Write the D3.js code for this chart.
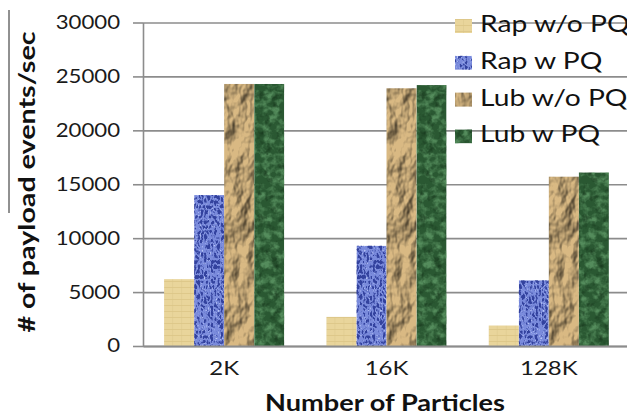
<!DOCTYPE html>
<html>
<head>
<meta charset="utf-8">
<script src="https://cdn.jsdelivr.net/npm/d3@7"></script>
<style>
  html, body { margin: 0; padding: 0; background: #fff; }
  svg { display: block; }
  filter { color-interpolation-filters: sRGB; }
</style>
</head>
<body>
<svg id="chart" width="627" height="418"></svg>
<script>
// Throughput per particle count, four configurations
const categories = ["2K", "16K", "128K"];
const seriesNames = ["Rap w/o PQ", "Rap w PQ", "Lub w/o PQ", "Lub w PQ"];
const rapNoPQ = [6200, 2700, 1900];
const rapPQ   = [14000, 9300, 6100];
const lubNoPQ = [24300, 23900, 15700];
const lubPQ   = [24300, 24200, 16100];
const yTicks  = [0, 5000, 10000, 15000, 20000, 25000, 30000];
const yTitle = "# of payload events/sec";
const xTitle = "Number of Particles";

const seriesValues = [rapNoPQ, rapPQ, lubNoPQ, lubPQ];

const W = 627, H = 418;
const svg = d3.select("#chart");
const defs = svg.append("defs");

// ---- bar fills -------------------------------------------------------
// papyrus-like pale tan with a faint grid
const pap = defs.append("pattern").attr("id", "pap")
  .attr("patternUnits", "userSpaceOnUse").attr("width", 9).attr("height", 6);
pap.append("rect").attr("width", 9).attr("height", 6).attr("fill", "#e9d59b");
pap.append("path").attr("d", "M0,5.5H9").attr("stroke", "#d5bd7c").attr("stroke-width", 1).attr("opacity", 0.55);
pap.append("path").attr("d", "M8.5,0V6").attr("stroke", "#dac488").attr("stroke-width", 1).attr("opacity", 0.45);

// blue woven mesh
const fWeave = defs.append("filter").attr("id", "weave")
  .attr("x", 0).attr("y", 0).attr("width", 1).attr("height", 1)
  .attr("color-interpolation-filters", "sRGB");
fWeave.append("feTurbulence").attr("type", "turbulence")
  .attr("baseFrequency", "0.3 0.2").attr("numOctaves", 2).attr("seed", 3).attr("result", "n1");
fWeave.append("feColorMatrix").attr("in", "n1").attr("type", "matrix")
  .attr("values", "0 0 0 0 0.2  0 0 0 0 0.26  0 0 0 0 0.62  5 0 0 0 -1.1")
  .attr("result", "dark");
fWeave.append("feTurbulence").attr("type", "turbulence")
  .attr("baseFrequency", "0.5 0.4").attr("numOctaves", 1).attr("seed", 9).attr("result", "n2");
fWeave.append("feColorMatrix").attr("in", "n2").attr("type", "matrix")
  .attr("values", "0 0 0 0 0.72  0 0 0 0 0.77  0 0 0 0 0.96  0 3.2 0 0 -0.9")
  .attr("result", "light");
const mW = fWeave.append("feMerge").attr("result", "mix");
mW.append("feMergeNode").attr("in", "SourceGraphic");
mW.append("feMergeNode").attr("in", "light");
mW.append("feMergeNode").attr("in", "dark");
fWeave.append("feComposite").attr("in", "mix").attr("in2", "SourceGraphic").attr("operator", "in");

// crumpled brown paper (region padded so the lighting has no edge seams)
const fPaper = defs.append("filter").attr("id", "crumple")
  .attr("x", -0.5).attr("y", -0.1).attr("width", 2).attr("height", 1.2)
  .attr("color-interpolation-filters", "sRGB");
fPaper.append("feTurbulence").attr("type", "fractalNoise")
  .attr("baseFrequency", "0.05 0.03").attr("numOctaves", 4).attr("seed", 7).attr("result", "noise");
fPaper.append("feGaussianBlur").attr("in", "noise").attr("stdDeviation", 0.6).attr("result", "soft");
const dl = fPaper.append("feDiffuseLighting").attr("in", "soft")
  .attr("surfaceScale", 5).attr("diffuseConstant", 1.15)
  .attr("lighting-color", "#ffffff").attr("result", "lit");
dl.append("feDistantLight").attr("azimuth", 225).attr("elevation", 50);
fPaper.append("feFlood").attr("flood-color", "#d9b983").attr("result", "tan");
fPaper.append("feBlend").attr("in", "tan").attr("in2", "lit").attr("mode", "multiply").attr("result", "shaded");
fPaper.append("feComposite").attr("in", "shaded").attr("in2", "SourceGraphic").attr("operator", "in");

// green marble
const fMarble = defs.append("filter").attr("id", "marble")
  .attr("x", 0).attr("y", 0).attr("width", 1).attr("height", 1)
  .attr("color-interpolation-filters", "sRGB");
fMarble.append("feTurbulence").attr("type", "fractalNoise")
  .attr("baseFrequency", "0.13").attr("numOctaves", 3).attr("seed", 11).attr("result", "mn");
fMarble.append("feColorMatrix").attr("in", "mn").attr("type", "matrix")
  .attr("values", "0 0 0 0 0.33  0 0 0 0 0.55  0 0 0 0 0.36  3 0 0 0 -1.25")
  .attr("result", "veins");
fMarble.append("feColorMatrix").attr("in", "mn").attr("type", "matrix")
  .attr("values", "0 0 0 0 0.08  0 0 0 0 0.2  0 0 0 0 0.1  0 -2.2 0 0 1.0")
  .attr("result", "shadow");
const mM = fMarble.append("feMerge").attr("result", "mix");
mM.append("feMergeNode").attr("in", "SourceGraphic");
mM.append("feMergeNode").attr("in", "veins");
mM.append("feMergeNode").attr("in", "shadow");
fMarble.append("feComposite").attr("in", "mix").attr("in2", "SourceGraphic").attr("operator", "in");

const seriesStyle = [
  { fill: "url(#pap)", filter: null },
  { fill: "#7a8bdc", filter: "url(#weave)" },
  { fill: "#b8975f", filter: "url(#crumple)" },
  { fill: "#2a5832", filter: "url(#marble)" }
];

// ---- scales ----------------------------------------------------------
const x0 = d3.scaleBand().domain(categories).range([143, 630])
  .paddingInner(0.26).paddingOuter(0.13);
const x1 = d3.scaleBand().domain(seriesNames).range([0, x0.bandwidth()]);
const y = d3.scaleLinear().domain([0, 30000]).range([346, 22.5]);

const gridColor = "#8c8c8c";
const stretch = 1.2;

// gridlines across the plot
const grid = svg.append("g").attr("transform", "translate(143,0)")
  .call(d3.axisRight(y).tickValues(yTicks).tickSize(W - 143).tickFormat(""));
grid.select(".domain").remove();
grid.selectAll("line").attr("stroke", gridColor).attr("stroke-width", 1.6);

// y axis with outward ticks and labels
const yAxis = svg.append("g").attr("transform", "translate(143,0)")
  .call(d3.axisLeft(y).tickValues(yTicks).tickSize(10).tickSizeOuter(0).tickPadding(13)
    .tickFormat(d3.format("d")));
yAxis.select(".domain").attr("stroke", gridColor).attr("stroke-width", 1.6);
yAxis.selectAll("line").attr("stroke", gridColor).attr("stroke-width", 1.6);
yAxis.selectAll("text").attr("font-family", "Lato, 'Open Sans', sans-serif")
  .attr("font-size", 18.5).attr("fill", "#1a1a1a").classed("stretch", true);

// bars
const groups = svg.append("g").selectAll("g").data(categories).join("g")
  .attr("transform", d => `translate(${x0(d)},0)`);
groups.selectAll("rect")
  .data((c, ci) => seriesNames.map((s, si) => ({ s, si, v: seriesValues[si][ci] })))
  .join("rect")
  .attr("x", d => x1(d.s))
  .attr("y", d => y(d.v))
  .attr("width", x1.bandwidth())
  .attr("height", d => y(0) - y(d.v))
  .attr("fill", d => seriesStyle[d.si].fill)
  .attr("filter", d => seriesStyle[d.si].filter);

// x axis
const xAxis = svg.append("g").attr("transform", `translate(0,${y(0)})`)
  .call(d3.axisBottom(x0).tickSize(0).tickSizeOuter(0).tickPadding(15));
xAxis.select(".domain").attr("stroke", gridColor).attr("stroke-width", 1.8);
xAxis.selectAll("text").attr("font-family", "Lato, 'Open Sans', sans-serif")
  .attr("font-size", 20).attr("fill", "#1a1a1a").classed("stretch", true);

// legend, drawn straight over the gridlines
const legend = svg.append("g").attr("transform", "translate(455,0)");
const rowY = d3.scalePoint().domain(seriesNames).range([32, 142.4]);
const items = legend.selectAll("g").data(seriesNames).join("g")
  .attr("transform", d => `translate(0,${rowY(d)})`);
items.append("rect").attr("x", 0).attr("y", -13).attr("width", 17).attr("height", 14)
  .attr("fill", (d, i) => seriesStyle[i].fill)
  .attr("filter", (d, i) => seriesStyle[i].filter);
items.append("text").attr("x", 25).attr("y", 0).text(d => d)
  .attr("font-family", "Lato, 'Open Sans', sans-serif").attr("font-size", 23.5)
  .attr("fill", "#111").classed("stretch", true);

// axis titles
svg.append("text").attr("x", 385).attr("y", 411).attr("text-anchor", "middle")
  .attr("font-family", "Lato, 'Open Sans', sans-serif").attr("font-weight", 700)
  .attr("font-size", 23).attr("fill", "#111")
  .attr("textLength", 240).attr("lengthAdjust", "spacingAndGlyphs")
  .text(xTitle);
svg.append("text").attr("transform", "translate(35,182) rotate(-90)")
  .attr("text-anchor", "middle")
  .attr("font-family", "Lato, 'Open Sans', sans-serif").attr("font-weight", 700)
  .attr("font-size", 23).attr("fill", "#111")
  .attr("textLength", 301).attr("lengthAdjust", "spacingAndGlyphs")
  .text(yTitle);

// thin rule at the far left edge
svg.append("line").attr("x1", 9).attr("x2", 9).attr("y1", 10).attr("y2", 213)
  .attr("stroke", "#222").attr("stroke-width", 1);

// widen the regular labels slightly
svg.selectAll("text.stretch").each(function () {
  const len = this.getComputedTextLength();
  d3.select(this).attr("textLength", len * stretch).attr("lengthAdjust", "spacingAndGlyphs");
});
</script>
</body>
</html>
